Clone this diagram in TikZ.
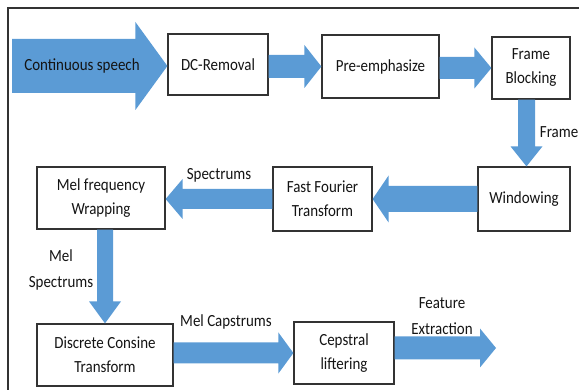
\documentclass[tikz,border=0pt]{standalone}
\usepackage{fontspec}
\setmainfont{Carlito}[FakeStretch=0.88]
\usetikzlibrary{calc}

\definecolor{flowblue}{HTML}{5B9BD5}
\definecolor{inkgray}{HTML}{141414}
\definecolor{edgegray}{HTML}{333333}

% Block arrow from #1 to tip #2: shaft half-width #3, head half-width #4, head length #5 (pt)
\newcommand\blockarrow[5]{%
  \path ($(#2)!#5pt!(#1)$) coordinate (ba@base);
  \fill[flow]
    ($(#1)!#3pt!90:(#2)$) -- ($(ba@base)!#3pt!90:(#2)$) --
    ($(ba@base)!#4pt!90:(#2)$) -- (#2) --
    ($(ba@base)!#4pt!-90:(#2)$) -- ($(ba@base)!#3pt!-90:(#2)$) --
    ($(#1)!#3pt!-90:(#2)$) -- cycle;
}

\tikzset{
  flow/.style={fill=flowblue},
  stage/.style={draw=edgegray, line width=1.2pt, fill=white, align=center,
    inner sep=0pt, text=inkgray,
    font=\fontsize{17}{24}\selectfont},
  tag/.style={align=center, inner sep=0pt, text=inkgray,
    font=\fontsize{17}{26}\selectfont},
}

\begin{document}
\begin{tikzpicture}[x=1pt, y=-1pt]
  \useasboundingbox (0,0) rectangle (579,390);
  % outer frame (top and left edges)
  \draw[edgegray, line width=1.5pt] (579,8) -- (8,8) -- (8,390);

  % processing stages
  \node[stage, minimum width=100pt, minimum height=61pt] (dc)  at (218,64.5) {DC-Removal};
  \node[stage, minimum width=117pt, minimum height=63pt] (pre) at (380.5,66.5) {Pre-emphasize};
  \node[stage, minimum width=78pt,  minimum height=62pt] (fb)  at (531,68) {Frame\\Blocking};
  \node[stage, minimum width=92pt,  minimum height=64pt] (win) at (524,199) {Windowing};
  \node[stage, minimum width=99pt,  minimum height=64pt] (fft) at (322.5,199) {Fast Fourier\\Transform};
  \node[stage, minimum width=128pt, minimum height=62pt] (mel) at (101,198) {Mel frequency\\Wrapping};
  \node[stage, minimum width=136pt, minimum height=62pt] (dct) at (105,355) {Discrete Consine\\Transform};
  \node[stage, minimum width=100pt, minimum height=62pt] (cep) at (344,353) {Cepstral\\liftering};

  % free ends of the input and output arrows
  \coordinate (in)  at (12,66);
  \coordinate (out) at (496,348);

  % block arrows between stages
  \blockarrow{in}{in -| dc.west}{27}{44}{32}
  \blockarrow{dc.east |- pre.west}{pre.west}{11.5}{21.5}{17}
  \blockarrow{pre.east |- fb.west}{fb.west}{11}{20.5}{17}
  \coordinate (fbout) at ($(fb.south)+(-4.5,0)$);
  \blockarrow{fbout}{fbout |- win.north}{8.5}{16}{20}
  \blockarrow{win.west}{fft.east}{13}{23.5}{16}
  \blockarrow{fft.west}{fft.west -| mel.east}{10}{20}{17}
  \blockarrow{mel.south -| dct.north}{dct.north}{8}{16}{22}
  \blockarrow{dct.east |- cep.west}{cep.west}{10.5}{20.5}{15}
  \blockarrow{cep.east |- out}{out}{11.5}{19.5}{16}

  % labels
  \node[tag] (lin)  at (82,66) {Continuous speech};
  \node[tag, anchor=east] (lfr) at (578.5,132) {Frame};
  \node[tag] (lspec) at (219,175) {Spectrums};
  \node[tag] (lmel)  at (61,270) {Mel\\Spectrums};
  \node[tag] (lcap)  at (226,322) {Mel Capstrums};
  \node[tag] (lfeat) at (442,316) {Feature\\Extraction};
\end{tikzpicture}
\end{document}
